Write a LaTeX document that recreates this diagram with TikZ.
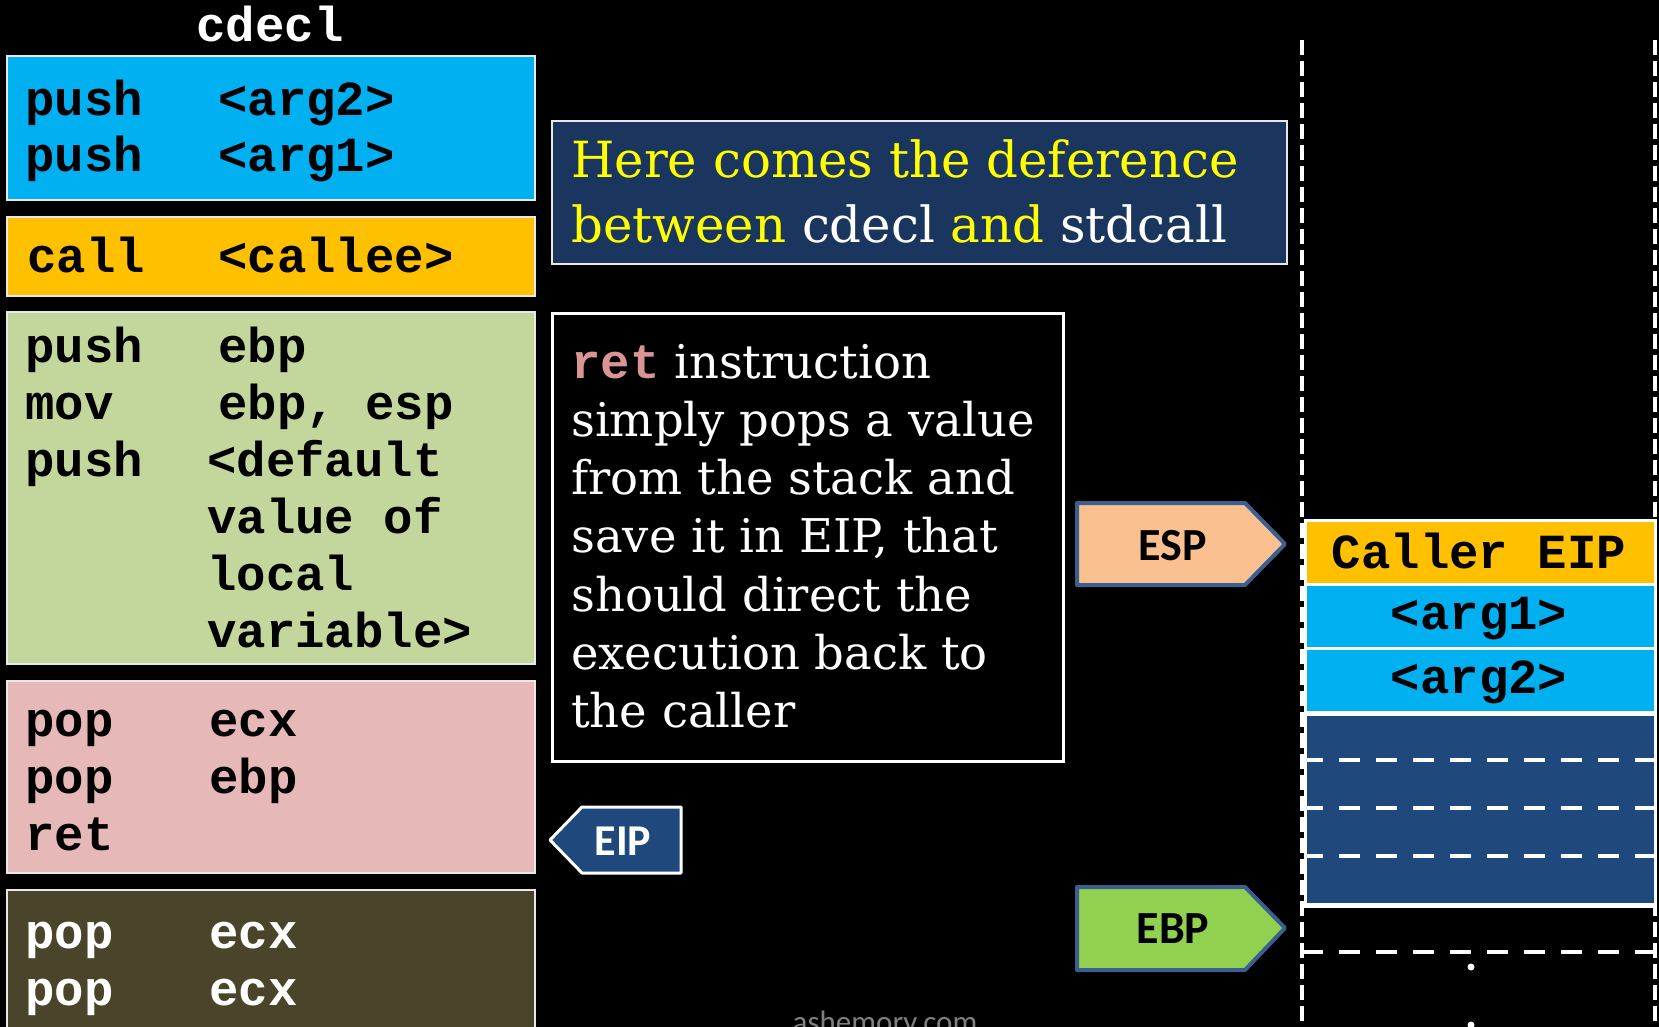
\documentclass[tikz,border=0pt]{standalone}
\usepackage{fontspec}
\newfontfamily\codefont{Liberation Mono}
\newfontfamily\prosefont{DejaVu Serif}
\newfontfamily\tagfont{Carlito}
\definecolor{argblue}{HTML}{00B0F0}
\definecolor{callorange}{HTML}{FFC000}
\definecolor{prologgreen}{HTML}{C3D69B}
\definecolor{epilogpink}{HTML}{E6B9B8}
\definecolor{cleanolive}{HTML}{4A452A}
\definecolor{headnavy}{HTML}{1B365E}
\definecolor{stacknavy}{HTML}{1F497D}
\definecolor{peach}{HTML}{FAC090}
\definecolor{lime}{HTML}{92D050}
\definecolor{tagedge}{HTML}{3B5F8E}
\definecolor{retpink}{HTML}{D99594}
\definecolor{marktext}{HTML}{FFFF00}
\definecolor{boxedge}{HTML}{E8E8E8}
\begin{document}
\begin{tikzpicture}[x=1pt,y=-1pt,
  codebox/.style={draw=boxedge, line width=2pt, anchor=north west, inner sep=0pt},
  code/.style={anchor=base west, inner sep=0pt, font=\codefont\bfseries\fontsize{49}{57}\selectfont},
  slot/.style={draw=white, line width=2.5pt, anchor=north west, inner sep=0pt, minimum width=350pt},
  slottext/.style={anchor=base, inner sep=0pt, font=\codefont\bfseries\fontsize{49}{57}\selectfont},
  prose/.style={anchor=base west, inner sep=0pt, font=\prosefont\fontsize{46.5}{58}\selectfont, text=white},
  headline/.style={anchor=base west, inner sep=0pt, font=\prosefont\fontsize{49.8}{64}\selectfont, text=marktext},
  tagtext/.style={anchor=base, inner sep=0pt, font=\tagfont\bfseries\fontsize{46}{50}\selectfont},
  tagshape/.style={draw=tagedge, line width=4pt, line join=round},
  slotdash/.style={white, line width=4pt, dash pattern=on 21pt off 16pt, dash phase=2pt},
  wall/.style={white, line width=4pt, dash pattern=on 15pt off 6pt}
]
\useasboundingbox (0,0) rectangle (1659,1027);
\clip (0,0) rectangle (1659,1027);
\fill[black] (0,0) rectangle (1659,1027);

% ---------- calling convention listing ----------
\node[code, anchor=base, text=white] (title) at (270,42) {cdecl};

\node[codebox, fill=argblue, minimum width=528pt, minimum height=144pt] (args) at (6,55) {};
\node[code] (a1) at (25,116) {push};
\node[code] (a2) at (218,116) {<arg2>};
\node[code] (a3) at (25,172) {push};
\node[code] (a4) at (218,172) {<arg1>};

\node[codebox, fill=callorange, minimum width=528pt, minimum height=79pt] (callbox) at (6,216) {};
\node[code] (c1) at (27,272) {call};
\node[code] (c2) at (218,272) {<callee>};

\node[codebox, fill=prologgreen, minimum width=528pt, minimum height=352pt] (prolog) at (6,311) {};
\node[code] (p1) at (25,362) {push};
\node[code] (p2) at (218,362) {ebp};
\node[code] (p3) at (25,419) {mov};
\node[code] (p4) at (218,419) {ebp, esp};
\node[code] (p5) at (25,476) {push};
\node[code] (p6) at (207,476) {<default};
\node[code] (p7) at (207,533) {value of};
\node[code] (p8) at (207,590) {local};
\node[code] (p9) at (207,647) {variable>};

\node[codebox, fill=epilogpink, minimum width=528pt, minimum height=192pt] (epilog) at (6,680) {};
\node[code] (e1) at (25,736) {pop};
\node[code] (e2) at (209,736) {ecx};
\node[code] (e3) at (25,793) {pop};
\node[code] (e4) at (209,793) {ebp};
\node[code] (e5) at (25,850) {ret};

\node[codebox, fill=cleanolive, minimum width=528pt, minimum height=170pt] (cleanup) at (6,889) {};
\node[code, text=white] (k1) at (25,948) {pop};
\node[code, text=white] (k2) at (209,948) {ecx};
\node[code, text=white] (k3) at (25,1005) {pop};
\node[code, text=white] (k4) at (209,1005) {ecx};

% ---------- explanation boxes ----------
\node[codebox, fill=headnavy, minimum width=735pt, minimum height=143pt] (headbox) at (551,120) {};
\node[headline] (h1) at (571,178) {Here comes the deference};
\node[headline] (h2) at (571,242) {between \textcolor{white}{cdecl} and \textcolor{white}{stdcall}};

\node[draw=white, line width=2.5pt, fill=black, anchor=north west, inner sep=0pt,
      minimum width=511pt, minimum height=448pt] (retbox) at (551,312) {};
\node[prose] (r1) at (571,378) {{\codefont\bfseries\fontsize{49}{57}\selectfont\color{retpink}ret} instruction};
\node[prose] (r2) at (571,436.3) {simply pops a value};
\node[prose] (r3) at (571,494.6) {from the stack and};
\node[prose] (r4) at (571,552.9) {save it in EIP, that};
\node[prose] (r5) at (571,611.2) {should direct the};
\node[prose] (r6) at (571,669.5) {execution back to};
\node[prose] (r7) at (571,727.8) {the caller};

% ---------- register tags ----------
\fill[peach, tagshape] (1077,503) -- (1245,503) -- (1285,544) -- (1245,585) -- (1077,585) -- cycle;
\node[tagtext] (esp) at (1173,560) {ESP};

\fill[lime, tagshape] (1077,887) -- (1245,887) -- (1285,928) -- (1245,970) -- (1077,970) -- cycle;
\node[tagtext] (ebp) at (1173,943) {EBP};

\fill[stacknavy, draw=white, line width=3pt, line join=round]
  (550,840) -- (582,807) -- (681,807) -- (681,873) -- (582,873) -- cycle;
\node[tagtext, text=white, font=\tagfont\bfseries\fontsize{44}{48}\selectfont] (eip) at (623,855) {EIP};

% ---------- stack ----------
\draw[wall] (1302,40) -- (1302,1027);
\draw[wall] (1655,40) -- (1655,1027);

\node[slot, fill=callorange, minimum height=64pt] (callereip) at (1304,519) {};
\node[slottext] (t1) at (1479,568) {Caller EIP};
\node[slot, fill=argblue, minimum height=64pt] (sarg1) at (1304,583) {};
\node[slottext] (t2) at (1479,629) {<arg1>};
\node[slot, fill=argblue, minimum height=64pt] (sarg2) at (1304,647) {};
\node[slottext] (t3) at (1479,693) {<arg2>};
\node[slot, fill=stacknavy, minimum height=192pt] (locals) at (1304,713) {};
\draw[slotdash] (1304,760) -- (1654,760);
\draw[slotdash] (1304,808) -- (1654,808);
\draw[slotdash] (1304,856) -- (1654,856);
\draw[white, line width=4pt] (1302,905) -- (1656,905);
\draw[slotdash] (1304,952) -- (1654,952);
\fill[white] (1471,967) circle (3.5pt);
\fill[white] (1471,1025) circle (3.5pt);

% ---------- footer ----------
\node[anchor=base, inner sep=0pt, text=gray, font=\tagfont\fontsize{31}{34}\selectfont] (site) at (885,1032) {ashemory.com};
\end{tikzpicture}
\end{document}
